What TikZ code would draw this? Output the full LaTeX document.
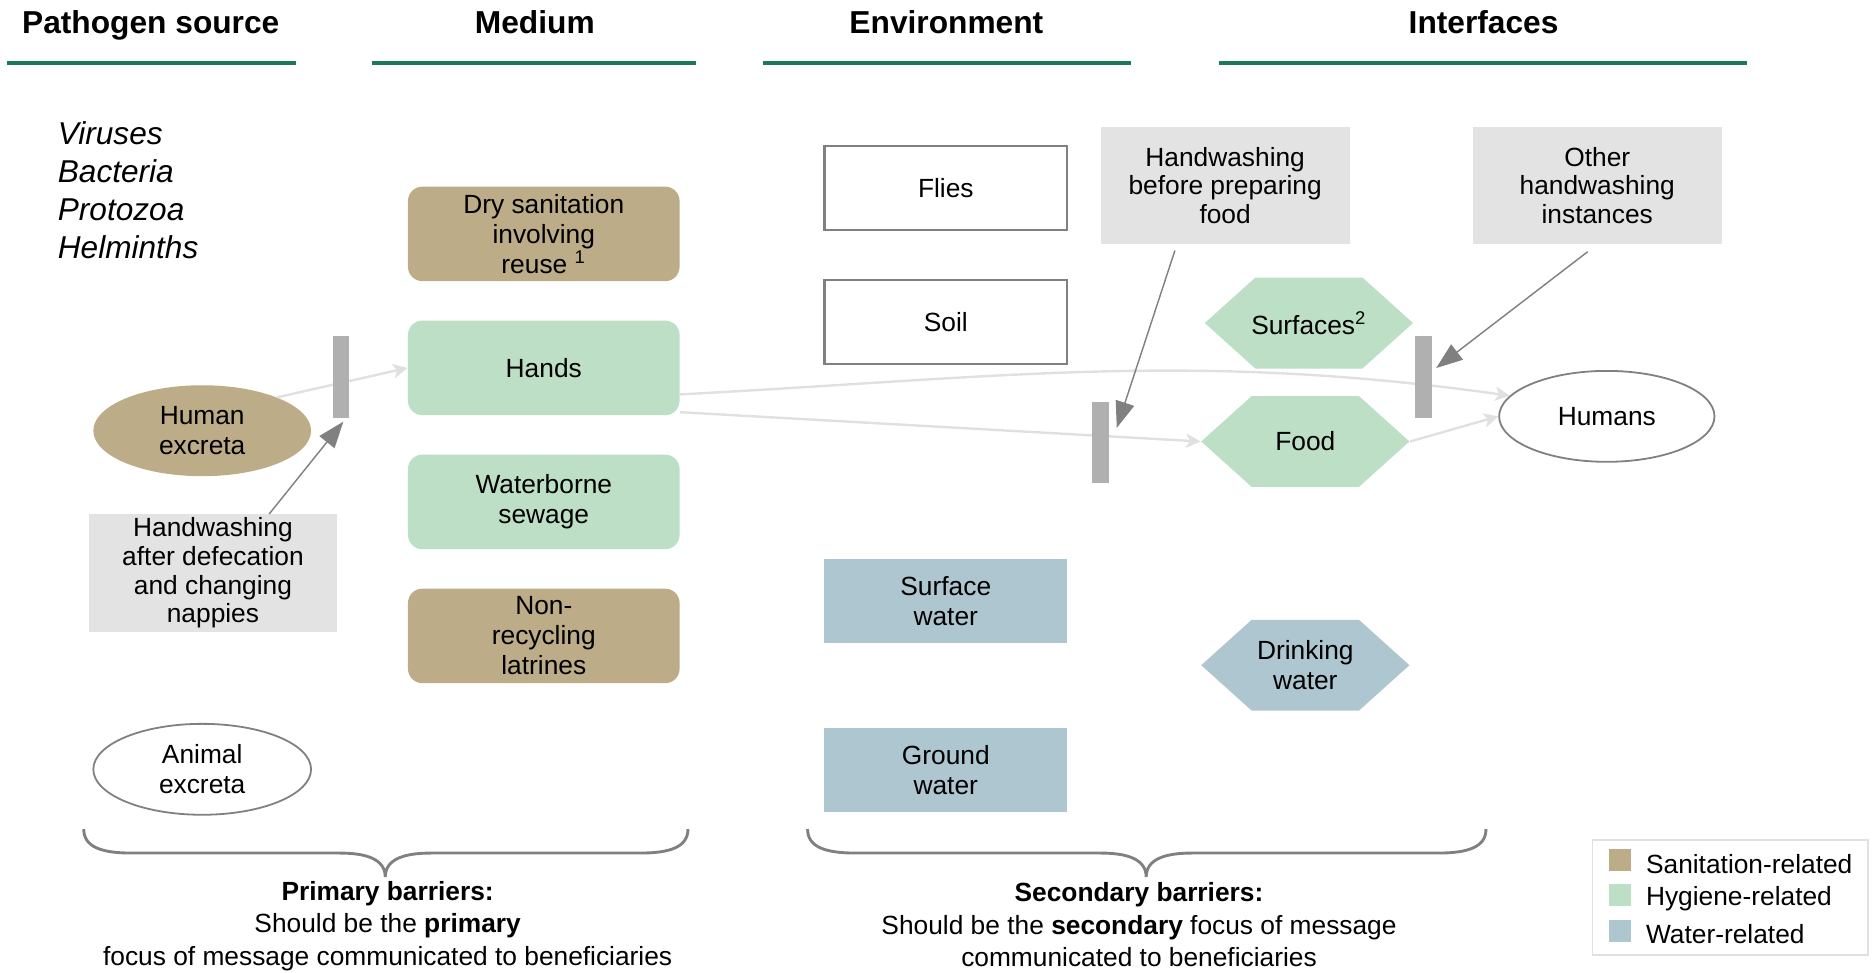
\documentclass[tikz,border=0pt]{standalone}
\usepackage{fontspec}
\setmainfont{Liberation Sans}
\usetikzlibrary{positioning,shapes.geometric,shapes.symbols,arrows.meta}
\definecolor{sanit}{RGB}{188,172,135}
\definecolor{hyg}{RGB}{189,223,197}
\definecolor{water}{RGB}{174,198,208}
\definecolor{washgray}{RGB}{227,227,227}
\definecolor{bargray}{RGB}{176,176,176}
\definecolor{arrowgray}{RGB}{128,128,128}
\definecolor{linkgray}{RGB}{224,224,224}
\definecolor{headgreen}{RGB}{26,122,86}
\newcommand*{\bodyfont}{\fontsize{11}{12.5}\selectfont}

\begin{document}
\begin{tikzpicture}[x=0.5pt,y=-0.5pt,font=\bodyfont,
    headtext/.style={font=\fontsize{13.25}{16}\selectfont\bfseries,text height=0.75em,text depth=0.25em},
    underline/.style={draw=headgreen,line width=1.6pt},
    medbox/.style={rectangle,rounded corners=6pt,minimum width=113.5pt,minimum height=39.5pt,align=center,inner sep=1pt},
    envbox/.style={rectangle,minimum width=101.5pt,minimum height=35pt,align=center,inner sep=1pt},
    hexa/.style={signal,signal to=east and west,signal pointer angle=84,minimum width=87pt,minimum height=38pt,align=center,inner sep=1pt},
    washbox/.style={rectangle,fill=washgray,minimum width=104pt,minimum height=49pt,align=center,inner sep=1pt,font=\fontsize{11}{12}\selectfont},
    excreta/.style={ellipse,minimum width=91pt,minimum height=38pt,align=center,inner sep=0pt},
    barrier/.style={rectangle,fill=bargray,minimum width=7pt,minimum height=34pt,inner sep=0pt},
    link/.style={draw=linkgray,line width=1pt,-{Stealth[length=6pt,width=6pt,inset=1.5pt]}},
    hint/.style={draw=arrowgray,line width=0.6pt,-{Triangle[length=11pt,width=8pt]}},
    braceline/.style={draw=arrowgray,line width=1.2pt},
    swatch/.style={rectangle,minimum size=9pt,inner sep=0pt}]
  \useasboundingbox (0,0) rectangle (1568,813);

  % column headings
  \node[headtext] (srchead) at (126,23) {Pathogen source};
  \node[headtext] (medhead) at (447,23) {Medium};
  \node[headtext] (envhead) at (791,23) {Environment};
  \node[headtext] (inthead) at (1240,23) {Interfaces};
  \draw[underline] (6,53) -- (247,53);
  \draw[underline] (311,53) -- (582,53);
  \draw[underline] (638,53) -- (945,53);
  \draw[underline] (1019,53) -- (1460,53);

  % pathogen source
  \node[anchor=west,align=left,font=\fontsize{13.2}{16}\selectfont\itshape,inner sep=0pt] (germs) at (48,159)
    {Viruses\\Bacteria\\Protozoa\\Helminths};
  \node[excreta,fill=sanit] (hexcreta) at (169,360) {Human\\excreta};
  \node[excreta,draw=arrowgray,line width=0.75pt] (aexcreta) at (169,643) {Animal\\excreta};
  \node[washbox] (washA) at (178,479) {Handwashing\\after defecation\\and changing\\nappies};

  % medium
  \node[medbox,fill=sanit] (drysan) at (454.5,195.5) {Dry sanitation\\involving\\reuse \textsuperscript{1}};
  \node[medbox,fill=hyg,on grid,below=56pt of drysan] (hands) {Hands};
  \node[medbox,fill=hyg,on grid,below=56pt of hands] (sewage) {Waterborne\\sewage};
  \node[medbox,fill=sanit,on grid,below=56pt of sewage] (latrines) {Non-\\recycling\\latrines};

  % environment
  \node[envbox,draw=arrowgray,line width=1pt] (flies) at (790.5,157) {Flies};
  \node[envbox,draw=arrowgray,line width=1pt,on grid,below=56pt of flies] (soil) {Soil};
  \node[envbox,fill=water] (surfwater) at (790.5,502.5) {Surface\\water};
  \node[envbox,fill=water,on grid,below=70.5pt of surfwater] (groundwater) {Ground\\water};

  % interfaces
  \node[washbox] (washB) at (1024,155) {Handwashing\\before preparing\\food};
  \node[washbox] (washC) at (1335,155) {Other\\handwashing\\instances};
  \node[hexa,fill=hyg,inner xsep=-2.5pt] (surfaces) at (1094,270) {Surfaces\textsuperscript{2}};
  \node[hexa,fill=hyg] (food) at (1091,369) {Food};
  \node[hexa,fill=water] (drinking) at (1091,556) {Drinking\\water};
  \node[excreta,draw=arrowgray,line width=0.75pt,minimum width=90pt] (humans) at (1343,348) {Humans};

  % transmission routes
  \path
    (hexcreta.24) edge[link] (hands.west)
    (hands.-11) edge[link,out=3,in=172] (humans.168)
    (hands.-18) edge[link] (food.west)
    (food.east) edge[link] (humans.west);

  % barriers
  \node[barrier] (bar1) at (285,315) {};
  \node[barrier] (bar2) at (920,370) {};
  \node[barrier] (bar3) at (1190,315) {};
  \draw[hint] ([xshift=23.5pt]washA.north) -- ([shift={(1pt,-1.5pt)}]bar1.south);
  \draw[hint] ([shift={(-21pt,-2.5pt)}]washB.south) -- ([shift={(3pt,-11pt)}]bar2.north east);
  \draw[hint] ([shift={(-4pt,-3pt)}]washC.south) -- ([shift={(1.5pt,-13.5pt)}]bar3.north east);

  % braces
  \draw[braceline] (70,693) .. controls (70,708) and (85,713) .. (110,713) -- (284,713)
    .. controls (306,713) and (322,718) .. (322,733) .. controls (322,718) and (338,713) .. (360,713)
    -- (535,713) .. controls (560,713) and (575,708) .. (575,693);
  \draw[braceline] (675,693) .. controls (675,708) and (690,713) .. (715,713) -- (920,713)
    .. controls (942,713) and (958,718) .. (958,733) .. controls (958,718) and (974,713) .. (996,713)
    -- (1202,713) .. controls (1227,713) and (1242,708) .. (1242,693);
  \node[align=center,font=\fontsize{11}{13.5}\selectfont] (primtext) at (324,774)
    {\textbf{Primary barriers:}\\Should be the \textbf{primary}\\focus of message communicated to beneficiaries};
  \node[align=center,font=\fontsize{11}{13.5}\selectfont] (sectext) at (952,773)
    {\textbf{Secondary barriers:}\\Should be the \textbf{secondary} focus of message\\communicated to beneficiaries};

  % legend
  \draw[draw=linkgray,line width=0.8pt] (1331,702) rectangle (1561,798);
  \node[swatch,fill=sanit] (lsan) at (1354,719) {};
  \node[swatch,fill=hyg] (lhyg) at (1354,748) {};
  \node[swatch,fill=water] (lwat) at (1354,778) {};
  \node[right=6pt of lsan,inner sep=0pt,yshift=-1.5pt] (tsan) {Sanitation-related};
  \node[right=6pt of lhyg,inner sep=0pt,yshift=-1.5pt] (thyg) {Hygiene-related};
  \node[right=6pt of lwat,inner sep=0pt,yshift=-1.5pt] (twat) {Water-related};
\end{tikzpicture}
\end{document}
